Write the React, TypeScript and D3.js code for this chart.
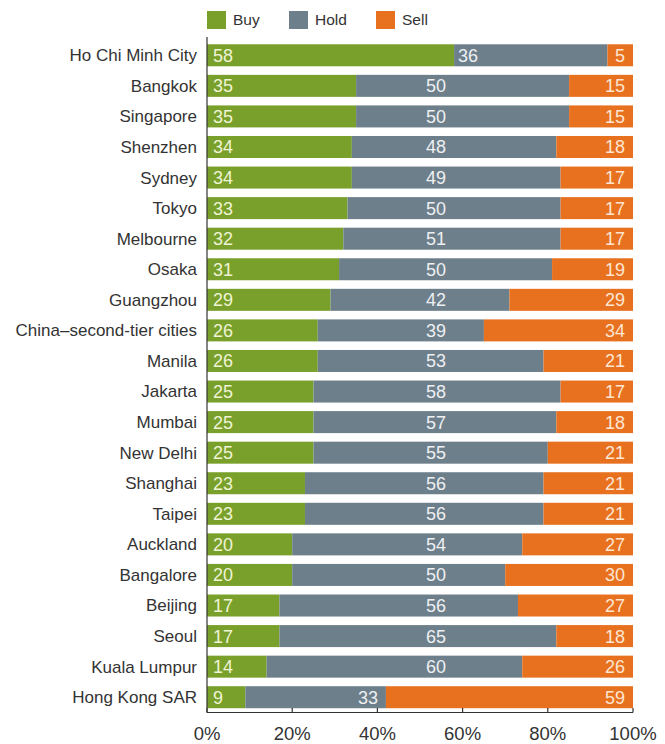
import React from "react";
import * as d3 from "d3";

const cities = [
  "Ho Chi Minh City", "Bangkok", "Singapore", "Shenzhen", "Sydney", "Tokyo",
  "Melbourne", "Osaka", "Guangzhou", "China–second-tier cities", "Manila",
  "Jakarta", "Mumbai", "New Delhi", "Shanghai", "Taipei", "Auckland",
  "Bangalore", "Beijing", "Seoul", "Kuala Lumpur", "Hong Kong SAR",
];
const buy = [58, 35, 35, 34, 34, 33, 32, 31, 29, 26, 26, 25, 25, 25, 23, 23, 20, 20, 17, 17, 14, 9];
const hold = [36, 50, 50, 48, 49, 50, 51, 50, 42, 39, 53, 58, 57, 55, 56, 56, 54, 50, 56, 65, 60, 33];
const sell = [5, 15, 15, 18, 17, 17, 17, 19, 29, 34, 21, 17, 18, 21, 21, 21, 27, 30, 27, 18, 26, 59];
const tickValues = [0, 20, 40, 60, 80, 100];
const seriesNames = ["Buy", "Hold", "Sell"];

const COLORS = { Buy: "#7aa02c", Hold: "#6d7f8b", Sell: "#e8711f" };
const TEXT_COLORS = { Buy: "#eef4d4", Hold: "#eef0f2", Sell: "#fde6d2" };
const FONT = "'Liberation Sans', Arial, Helvetica, sans-serif";

export default function App() {
  const W = 665, H = 744;
  const x = d3.scaleLinear().domain([0, 100]).range([207, 633]);
  const y = d3.scaleBand<string>().domain(cities).range([40, 712.5]).paddingInner(0.28).paddingOuter(0.14);
  const bh = y.bandwidth();

  return (
    <svg width={W} height={H} style={{ position: "absolute", left: 0, top: 0, background: "#fff" }} fontFamily={FONT}>
      {/* legend */}
      {seriesNames.map((s, i) => {
        const lx = [207, 289, 376][i];
        return (
          <g key={s}>
            <rect x={lx} y={11} width={19} height={18} fill={COLORS[s]} />
            <text x={lx + 26} y={20} dy="0.35em" fontSize={15.5} fill="#333">{s}</text>
          </g>
        );
      })}

      {cities.map((c, i) => {
        const y0 = y(c)!;
        const cy = y0 + bh / 2;
        const b = buy[i], h = hold[i];
        const bx0 = x(0), bx1 = x(b), hx1 = x(b + h), sx1 = x(100);
        const holdCenter = Math.max(bx1 + 14, Math.min(436, hx1 - 18));
        return (
          <g key={c}>
            <text x={197} y={cy} dy="0.35em" textAnchor="end" fontSize={17} fill="#333">{c}</text>
            <rect x={bx0} y={y0} width={bx1 - bx0} height={bh} fill={COLORS.Buy} />
            <rect x={bx1} y={y0} width={hx1 - bx1} height={bh} fill={COLORS.Hold} />
            <rect x={hx1} y={y0} width={sx1 - hx1} height={bh} fill={COLORS.Sell} />
            <text x={bx0 + 6} y={cy} dy="0.36em" fontSize={18} fill={TEXT_COLORS.Buy}>{b}</text>
            <text x={holdCenter} y={cy} dy="0.36em" textAnchor="middle" fontSize={18} fill={TEXT_COLORS.Hold}>{h}</text>
            <text x={sx1 - 8} y={cy} dy="0.36em" textAnchor="end" fontSize={18} fill={TEXT_COLORS.Sell}>{sell[i]}</text>
          </g>
        );
      })}

      {/* axes */}
      <line x1={207} x2={207} y1={37} y2={712.5} stroke="#333" strokeWidth={1.2} />
      <line x1={207} x2={633} y1={712.5} y2={712.5} stroke="#333" strokeWidth={1.2} />
      {tickValues.map((t) => (
        <g key={t}>
          <line x1={x(t)} x2={x(t)} y1={712.5} y2={708} stroke="#333" strokeWidth={1.2} />
          <text x={x(t)} y={734} dy="0.35em" textAnchor="middle" fontSize={18.5} fill="#333">{t}%</text>
        </g>
      ))}
    </svg>
  );
}
